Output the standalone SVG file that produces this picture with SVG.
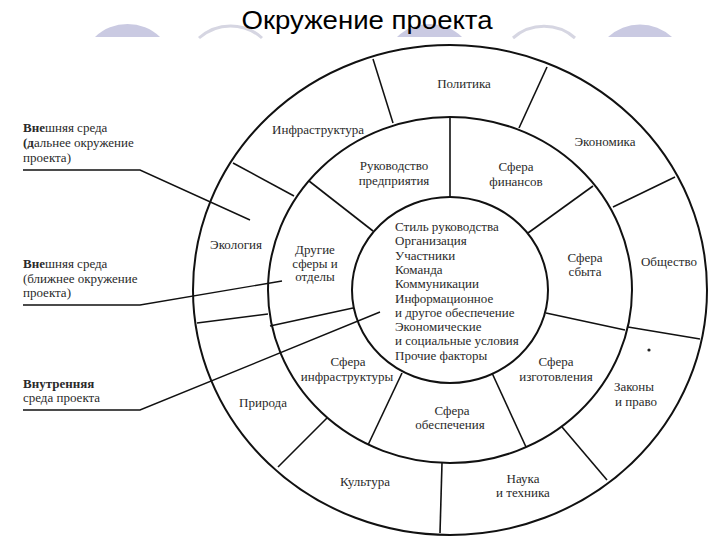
<svg xmlns="http://www.w3.org/2000/svg" width="720" height="540" viewBox="0 0 720 540">
<style>
.bgf{fill:#cacae2;stroke:none}
.bgo{fill:none;stroke:#d6d6e2;stroke-width:3}
.ring{fill:none;stroke:#111;stroke-width:2}
.sp{stroke:#111;stroke-width:1.6;fill:none}
.ld{stroke:#111;stroke-width:1.4;fill:none}
.t{font-family:"Liberation Serif","Times New Roman",serif;font-size:13px;fill:#2a2a2a;text-anchor:middle}
.tl{font-family:"Liberation Serif","Times New Roman",serif;font-size:13px;fill:#2a2a2a}
.title{font-family:"Liberation Sans",Arial,sans-serif;font-size:26px;fill:#000;text-anchor:middle}
</style>
<rect width="720" height="540" fill="#fff"/>
<g id="watermark">
<path class="bgf" d="M95,37 A47,47 0 0 1 160,37 Z"/>
<path class="bgo" d="M199,38 A47,47 0 0 1 262,38"/>
<path class="bgf" d="M397,37 A47,47 0 0 1 462,37 Z"/>
<path class="bgo" d="M513,38 A47,47 0 0 1 575,38"/>
<path class="bgf" d="M608,37 A47,47 0 0 1 672,37 Z"/>
</g>
<g id="title"><text class="title" x="367" y="29" textLength="251" lengthAdjust="spacingAndGlyphs">Окружение проекта</text></g>
<g id="rings">
<ellipse class="ring" cx="450" cy="290" rx="257" ry="245"/>
<ellipse class="ring" cx="450" cy="290" rx="182" ry="173"/>
<ellipse class="ring" cx="450" cy="290" rx="98" ry="93"/>
</g>
<g id="dividers">
<line class="sp" x1="373" y1="59" x2="393" y2="123"/>
<line class="sp" x1="233" y1="163" x2="294" y2="196"/>
<line class="sp" x1="547" y1="67" x2="519" y2="128"/>
<line class="sp" x1="675" y1="177" x2="613" y2="207"/>
<line class="sp" x1="628" y1="327" x2="700" y2="339"/>
<line class="sp" x1="562" y1="427" x2="607" y2="480"/>
<line class="sp" x1="442" y1="463" x2="440" y2="533"/>
<line class="sp" x1="327" y1="418" x2="278" y2="467"/>
<line class="sp" x1="197" y1="323" x2="268" y2="314"/>
<line class="sp" x1="450" y1="117" x2="450" y2="197"/>
<line class="sp" x1="309" y1="181" x2="373" y2="231"/>
<line class="sp" x1="593" y1="186" x2="528" y2="233"/>
<line class="sp" x1="546" y1="313" x2="625" y2="330"/>
<line class="sp" x1="492" y1="373" x2="526" y2="447"/>
<line class="sp" x1="402" y1="373" x2="368" y2="445"/>
<line class="sp" x1="270" y1="326" x2="353" y2="308"/>
<circle cx="649" cy="350" r="1.6" fill="#222"/>
</g>
<g id="connectors">
<polyline class="ld" points="23,170 140,170 250,220"/>
<polyline class="ld" points="23,305 140,305 282,281"/>
<polyline class="ld" points="23,410 140,410 380,312"/>
</g>
<g id="label-far"><text class="tl" x="23" y="132"><tspan font-weight="bold">Вне</tspan>шняя среда<tspan x="23" dy="15"><tspan font-weight="bold">(д</tspan>альнее окружение</tspan><tspan x="23" dy="15">проекта)</tspan></text></g>
<g id="label-near"><text class="tl" x="23" y="268"><tspan font-weight="bold">Вне</tspan>шняя среда<tspan x="23" dy="15">(ближнее окружение</tspan><tspan x="23" dy="14">проекта)</tspan></text></g>
<g id="label-internal"><text class="tl" x="23" y="388"><tspan font-weight="bold">Внутренняя</tspan><tspan x="23" dy="14">среда проекта</tspan></text></g>
<g id="politika"><text class="t" x="464" y="88">Политика</text></g>
<g id="infrastruktura"><text class="t" x="318" y="134">Инфраструктура</text></g>
<g id="ekonomika"><text class="t" x="605" y="146">Экономика</text></g>
<g id="obshchestvo"><text class="t" x="669" y="266">Общество</text></g>
<g id="zakony"><text class="t" x="634" y="391">Законы<tspan x="636" dy="15">и право</tspan></text></g>
<g id="nauka"><text class="t" x="523" y="483">Наука<tspan x="523" dy="14">и техника</tspan></text></g>
<g id="kultura"><text class="t" x="365" y="486">Культура</text></g>
<g id="priroda"><text class="t" x="263" y="407">Природа</text></g>
<g id="ekologiya"><text class="t" x="236" y="249">Экология</text></g>
<g id="rukovodstvo"><text class="t" x="394" y="170">Руководство<tspan x="394" dy="15">предприятия</tspan></text></g>
<g id="finansy"><text class="t" x="516" y="171">Сфера<tspan x="516" dy="15">финансов</tspan></text></g>
<g id="sbyt"><text class="t" x="585" y="262">Сфера<tspan x="585" dy="14">сбыта</tspan></text></g>
<g id="izgotovlenie"><text class="t" x="556" y="366">Сфера<tspan x="556" dy="15">изготовления</tspan></text></g>
<g id="obespechenie"><text class="t" x="452" y="415">Сфера<tspan x="450" dy="14">обеспечения</tspan></text></g>
<g id="infra-sfera"><text class="t" x="348" y="366">Сфера<tspan x="347" dy="15">инфраструктуры</tspan></text></g>
<g id="drugie"><text class="t" x="315" y="254">Другие<tspan x="315" dy="13.5">сферы и</tspan><tspan x="315" dy="13.5">отделы</tspan></text></g>
<g id="core"><text class="tl" x="395" y="231">Стиль руководства<tspan x="395" dy="14.3">Организация</tspan><tspan x="395" dy="14.3">Участники</tspan><tspan x="395" dy="14.3">Команда</tspan><tspan x="395" dy="14.3">Коммуникации</tspan><tspan x="395" dy="14.3">Информационное</tspan><tspan x="395" dy="14.3">и другое обеспечение</tspan><tspan x="395" dy="14.3">Экономические</tspan><tspan x="395" dy="14.3">и социальные условия</tspan><tspan x="395" dy="14.3">Прочие факторы</tspan></text></g>
</svg>
